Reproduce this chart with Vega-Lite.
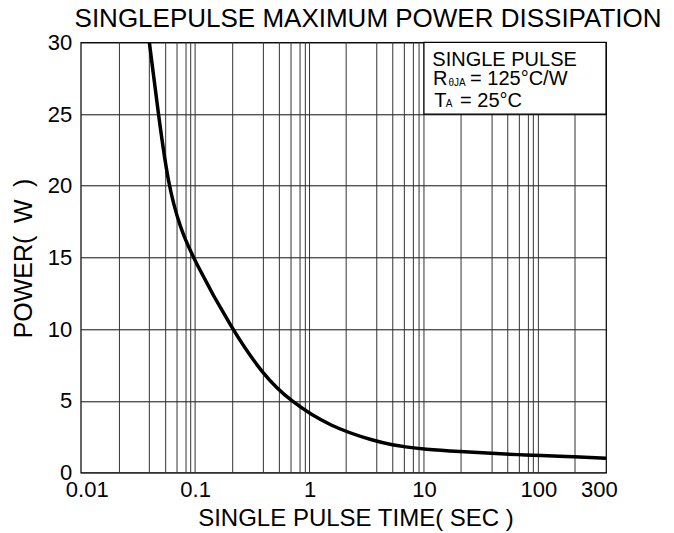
{
  "$schema": "https://vega.github.io/schema/vega-lite/v6.json",
  "width": 525.3,
  "height": 430.4,
  "autosize": {"type": "none"},
  "padding": {"left": 80.7, "top": 42.3, "right": 68, "bottom": 60.3},
  "background": "white",
  "config": {
    "font": "Liberation Sans",
    "view": {"stroke": "#000", "strokeWidth": 1.2}
  },
  "title": {
    "text": "SINGLEPULSE MAXIMUM POWER DISSIPATION",
    "fontSize": 26,
    "fontWeight": "normal",
    "color": "#000",
    "frame": "group",
    "anchor": "middle",
    "baseline": "alphabetic",
    "offset": 4,
    "dx": 24.7,
    "dy": 25.5
  },
  "datasets": {
    "curve": [
      {"t": 0.0398, "p": 30},
      {"t": 0.0477, "p": 25},
      {"t": 0.0583, "p": 20},
      {"t": 0.0738, "p": 17.1},
      {"t": 0.0953, "p": 15.0},
      {"t": 0.2089, "p": 10.0},
      {"t": 0.3947, "p": 6.8},
      {"t": 0.6752, "p": 5.0},
      {"t": 1.511, "p": 3.2},
      {"t": 3.867, "p": 2.16},
      {"t": 5.40, "p": 1.93},
      {"t": 6.74, "p": 1.81},
      {"t": 9.88, "p": 1.63},
      {"t": 21.1, "p": 1.46},
      {"t": 39.4, "p": 1.35},
      {"t": 68.2, "p": 1.25},
      {"t": 100, "p": 1.21},
      {"t": 209.3, "p": 1.11},
      {"t": 390, "p": 1.0}
    ],
    "grid": [
      {"t": 0.0218}, {"t": 0.0398}, {"t": 0.0553}, {"t": 0.0695}, {"t": 0.0833}, {"t": 0.0915}, {"t": 0.1},
      {"t": 0.213}, {"t": 0.395}, {"t": 0.545}, {"t": 0.689}, {"t": 0.826}, {"t": 0.919}, {"t": 1},
      {"t": 2.09}, {"t": 3.87}, {"t": 5.34}, {"t": 6.74}, {"t": 8.08}, {"t": 9.06}, {"t": 10},
      {"t": 21.1}, {"t": 39.4}, {"t": 54}, {"t": 68.2}, {"t": 81.8}, {"t": 90.4}, {"t": 100},
      {"t": 209}
    ],
    "box": [
      {"t": 10, "t2": 390, "p": 25, "p2": 30}
    ],
    "mainText": [
      {"t": 11.84, "p": 28.34, "label": "SINGLE PULSE"},
      {"t": 12.0, "p": 27.02, "label": "R"},
      {"t": 25.3, "p": 27.02, "label": "= 125°C/W"},
      {"t": 12.3, "p": 25.5, "label": "T"},
      {"t": 20.7, "p": 25.5, "label": "= 25°C"}
    ],
    "subText": [
      {"t": 16.4, "p": 26.97, "label": "θJA"},
      {"t": 15.5, "p": 25.47, "label": "A"}
    ]
  },
  "layer": [
    {
      "data": {"name": "grid"},
      "mark": {"type": "rule", "color": "#333", "strokeWidth": 1},
      "encoding": {
        "x": {"field": "t", "type": "quantitative", "scale": {"type": "log", "domain": [0.01, 390]}}
      }
    },
    {
      "data": {"name": "box"},
      "mark": {"type": "rect", "fill": "white", "stroke": "#000", "strokeWidth": 1.2},
      "encoding": {
        "x": {"field": "t", "type": "quantitative", "scale": {"type": "log", "domain": [0.01, 390]}},
        "x2": {"field": "t2"},
        "y": {"field": "p", "type": "quantitative", "scale": {"domain": [0, 30], "nice": false}},
        "y2": {"field": "p2"}
      }
    },
    {
      "data": {"name": "curve"},
      "mark": {"type": "line", "color": "#000", "strokeWidth": 3.5, "interpolate": "basis", "clip": true},
      "encoding": {
        "x": {
          "field": "t", "type": "quantitative",
          "scale": {"type": "log", "domain": [0.01, 390]},
          "axis": {
            "title": "SINGLE PULSE TIME( SEC )",
            "values": [0.01, 0.1, 1, 10, 100, 300],
            "format": "~g",
            "grid": false,
            "ticks": false,
            "domain": false,
            "labelFlush": false,
            "labelOffset": {"condition": {"test": "datum.value < 0.05 || datum.value > 200", "value": 6}, "value": 0},
            "labelFontSize": 22,
            "labelColor": "#000",
            "labelPadding": 7,
            "titleFontSize": 24,
            "titleFontWeight": "normal",
            "titleColor": "#000",
            "titleX": 274.8,
            "titleY": 52.3,
            "titleBaseline": "alphabetic",
            "titleAlign": "center"
          }
        },
        "y": {
          "field": "p", "type": "quantitative",
          "scale": {"domain": [0, 30], "nice": false},
          "axis": {
            "title": "POWER(\u2002W\u2002)",
            "values": [0, 5, 10, 15, 20, 25, 30],
            "grid": true,
            "gridColor": "#111",
            "gridWidth": 1,
            "gridOpacity": 1,
            "ticks": false,
            "domain": false,
            "labelFontSize": 22,
            "labelColor": "#000",
            "labelPadding": 9,
            "titleFontSize": 25,
            "titleFontWeight": "normal",
            "titleColor": "#000",
            "titleAngle": -90,
            "titleX": -49,
            "titleY": 215.7,
            "titleBaseline": "alphabetic",
            "titleAlign": "center"
          }
        }
      }
    },
    {
      "data": {"name": "mainText"},
      "mark": {"type": "text", "fontSize": 20, "align": "left", "baseline": "alphabetic", "color": "#000"},
      "encoding": {
        "x": {"field": "t", "type": "quantitative", "scale": {"type": "log", "domain": [0.01, 390]}},
        "y": {"field": "p", "type": "quantitative", "scale": {"domain": [0, 30], "nice": false}},
        "text": {"field": "label"}
      }
    },
    {
      "data": {"name": "subText"},
      "mark": {"type": "text", "fontSize": 10, "align": "left", "baseline": "alphabetic", "color": "#000"},
      "encoding": {
        "x": {"field": "t", "type": "quantitative", "scale": {"type": "log", "domain": [0.01, 390]}},
        "y": {"field": "p", "type": "quantitative", "scale": {"domain": [0, 30], "nice": false}},
        "text": {"field": "label"}
      }
    }
  ]
}
